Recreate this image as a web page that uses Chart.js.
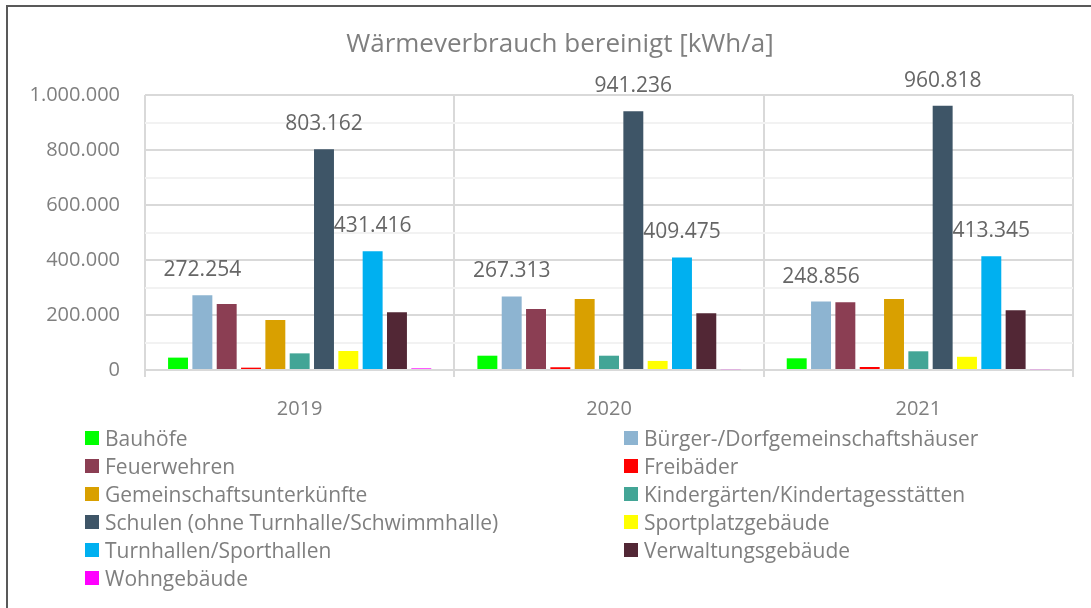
<!DOCTYPE html>
<html>
<head>
<meta charset="utf-8">
<script src="https://cdn.jsdelivr.net/npm/chart.js"></script>
<style>
    body { margin: 0; background: #fff; }
    #page { position: relative; width: 1091px; height: 608px; overflow: hidden; font-family: "Open Sans", sans-serif; }
    #frame { position: absolute; left: 6px; top: 5px; width: 1200px; height: 700px; border-left: 2px solid #595959; border-top: 2px solid #595959; }
    #box { position: absolute; left: 0; top: 0; width: 1091px; height: 430px; }
    #legend { position: absolute; left: 85px; top: 424px; width: 980px; display: grid; grid-template-columns: 539px 440px; }
    .item { height: 28px; display: flex; align-items: center; color: #7f7f7f; font-size: 21px; white-space: nowrap; }
    .sw { width: 14px; height: 14px; margin-right: 6px; flex: none; }
</style>
</head>
<body>
<div id="page">
    <div id="frame"></div>
    <div id="box"><canvas id="chart"></canvas></div>
    <div id="legend"></div>
</div>
<script>
    var years = ['2019', '2020', '2021'];

    var bauhoefe = [45000, 52000, 42500];
    var buerger = [272254, 267313, 248856];
    var feuerwehren = [240000, 222000, 246000];
    var freibaeder = [8500, 10000, 11000];
    var gemeinschaft = [182000, 258000, 258000];
    var kitas = [60500, 52000, 68000];
    var schulen = [803162, 941236, 960818];
    var sportplatz = [69000, 33000, 48000];
    var turnhallen = [431416, 409475, 413345];
    var verwaltung = [210000, 206000, 217000];
    var wohngebaeude = [6000, 3000, 3000];

    var yTicks = [0, 200000, 400000, 600000, 800000, 1000000];
    var titleText = 'Wärmeverbrauch bereinigt [kWh/a]';

    function fmt(v) {
        return String(Math.round(v)).replace(/\B(?=(\d{3})+(?!\d))/g, '.');
    }

    var series = [
        { label: 'Bauhöfe', data: bauhoefe, color: '#00ff00' },
        { label: 'Bürger-/Dorfgemeinschaftshäuser', data: buerger, color: '#8db4d1', showValue: true },
        { label: 'Feuerwehren', data: feuerwehren, color: '#8b3e53' },
        { label: 'Freibäder', data: freibaeder, color: '#ff0000' },
        { label: 'Gemeinschaftsunterkünfte', data: gemeinschaft, color: '#d9a000' },
        { label: 'Kindergärten/Kindertagesstätten', data: kitas, color: '#43a596' },
        { label: 'Schulen (ohne Turnhalle/Schwimmhalle)', data: schulen, color: '#3e5567', showValue: true },
        { label: 'Sportplatzgebäude', data: sportplatz, color: '#ffff00' },
        { label: 'Turnhallen/Sporthallen', data: turnhallen, color: '#00b0f0', showValue: true },
        { label: 'Verwaltungsgebäude', data: verwaltung, color: '#522735' },
        { label: 'Wohngebäude', data: wohngebaeude, color: '#ff00ff' }
    ];

    // title sits a bit right of the canvas centre in the original, so draw it here
    var titleDraw = {
        id: 'titleDraw',
        afterDraw: function(chart) {
            var ctx = chart.ctx;
            ctx.save();
            ctx.font = '26px "Open Sans"';
            ctx.fillStyle = '#7f7f7f';
            ctx.textAlign = 'center';
            ctx.textBaseline = 'middle';
            ctx.fillText(titleText, 560, 45);
            ctx.restore();
        }
    };

    // value labels above a few of the bars, like the Excel original
    var valueLabels = {
        id: 'valueLabels',
        afterDatasetsDraw: function(chart) {
            var ctx = chart.ctx;
            ctx.save();
            ctx.font = '21px "Open Sans"';
            ctx.fillStyle = '#666666';
            ctx.textAlign = 'center';
            ctx.textBaseline = 'middle';
            chart.data.datasets.forEach(function(ds, i) {
                if (!ds.showValue) return;
                chart.getDatasetMeta(i).data.forEach(function(bar, j) {
                    ctx.fillText(fmt(ds.data[j]), bar.x, bar.y - 25);
                });
            });
            ctx.restore();
        }
    };

    var chart = new Chart(document.getElementById('chart'), {
        type: 'bar',
        data: {
            labels: years,
            datasets: series.map(function(s) {
                return {
                    label: s.label,
                    data: s.data,
                    backgroundColor: s.color,
                    showValue: !!s.showValue,
                    categoryPercentage: 0.865,
                    barPercentage: 0.82
                };
            })
        },
        options: {
            responsive: true,
            maintainAspectRatio: false,
            animation: false,
            layout: { padding: { left: 10, right: 18, top: 95, bottom: 0 } },
            plugins: {
                legend: { display: false },
                tooltip: { enabled: false },
                title: { display: false }
            },
            scales: {
                x: {
                    grid: { color: '#d9d9d9', lineWidth: 2, tickLength: 7, offset: true },
                    border: { display: false },
                    ticks: { color: '#7f7f7f', padding: 20, font: { family: 'Open Sans', size: 20 } },
                    afterFit: function(scale) { scale.height = 60; }
                },
                y: {
                    min: 0,
                    max: 1000000,
                    ticks: {
                        stepSize: 100000,
                        padding: 25,
                        color: '#7f7f7f',
                        font: { family: 'Open Sans', size: 20 },
                        callback: function(v) { return yTicks.indexOf(v) >= 0 ? fmt(v) : ''; }
                    },
                    grid: {
                        drawTicks: false,
                        lineWidth: 2,
                        color: function(c) { return yTicks.indexOf(c.tick.value) >= 0 ? '#d9d9d9' : '#f2f2f2'; }
                    },
                    border: { display: false },
                    afterFit: function(scale) { scale.width = 135; }
                }
            }
        },
        plugins: [valueLabels, titleDraw]
    });

    var legend = document.getElementById('legend');
    series.forEach(function(s) {
        var item = document.createElement('div');
        item.className = 'item';
        var sw = document.createElement('span');
        sw.className = 'sw';
        sw.style.background = s.color;
        item.appendChild(sw);
        item.appendChild(document.createTextNode(s.label));
        legend.appendChild(item);
    });
</script>
</body>
</html>
